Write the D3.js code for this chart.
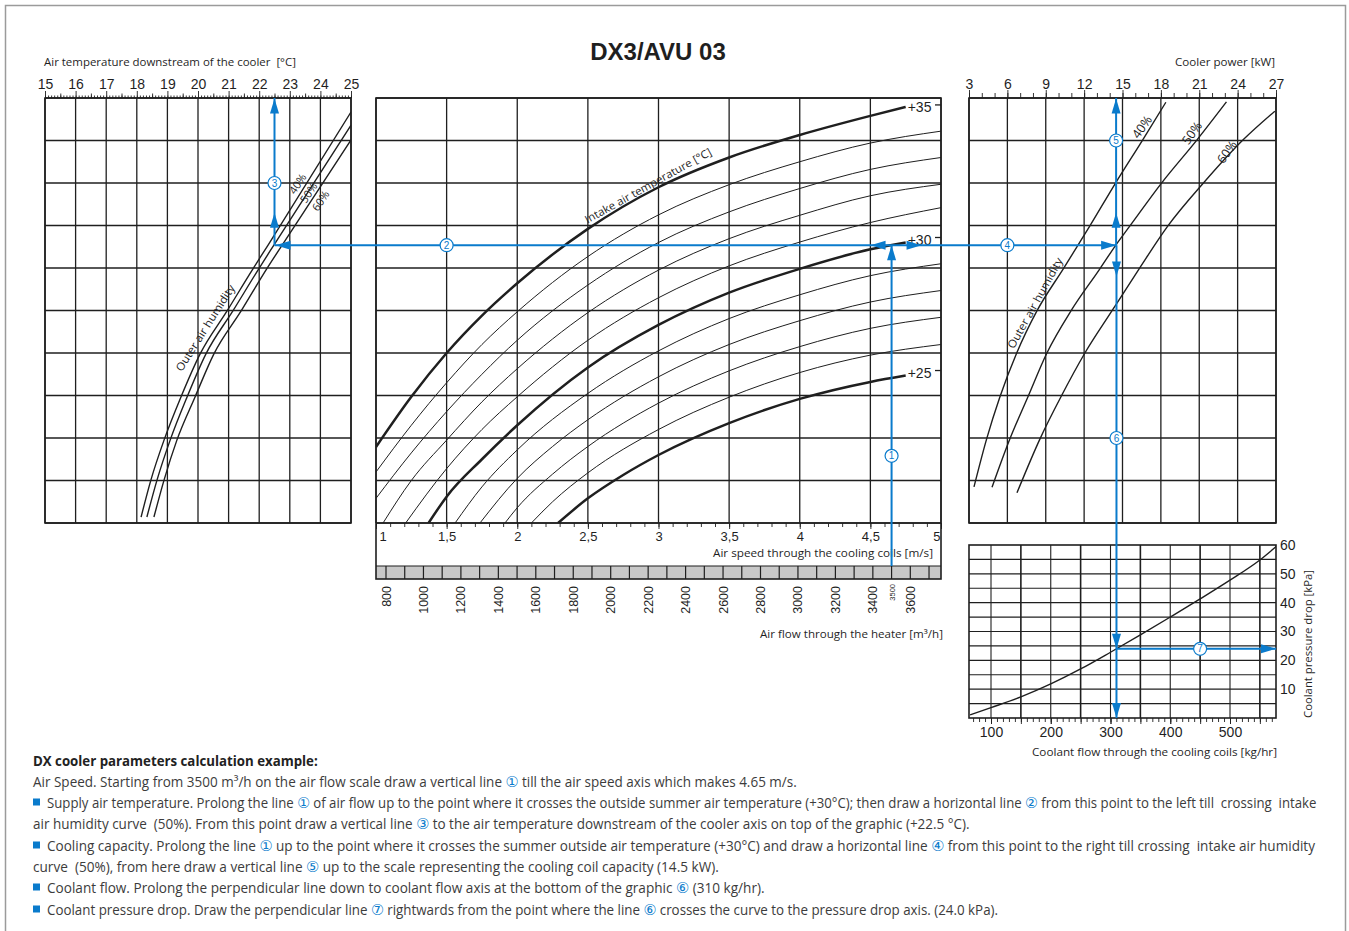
<!DOCTYPE html>
<html>
<head>
<meta charset="utf-8">
<title>DX3/AVU 03</title>
<script src="https://cdn.jsdelivr.net/npm/d3@7/dist/d3.min.js"></script>
<style>
html,body{margin:0;padding:0;background:#fff;}
svg{display:block;}
</style>
</head>
<body>
<svg id="chart" width="1349" height="931"></svg>
<script>
// ================= DATA =================
const chartTitle = "DX3/AVU 03";

const tempTicks = [15,16,17,18,19,20,21,22,23,24,25];
const gridRows = [0,1,2,3,4,5,6,7,8,9,10];
const speedTicks = [1,1.5,2,2.5,3,3.5,4,4.5,5];
const speedTickLabels = ["1","1,5","2","2,5","3","3,5","4","4,5","5"];
const flowTicks = [800,1000,1200,1400,1600,1800,2000,2200,2400,2600,2800,3000,3200,3400,3600];
const flowCells = [800,900,1000,1100,1200,1300,1400,1500,1600,1700,1800,1900,2000,2100,2200,2300,2400,2500,2600,2700,2800,2900,3000,3100,3200,3300,3400,3500,3600,3700];
const powerTicks = [3,6,9,12,15,18,21,24,27];
const coolantTicks = [100,200,300,400,500];
const coolantGrid = [100,150,200,250,300,350,400,450,500,550];
const pressureTicks = [10,20,30,40,50,60];
const pressureGrid = [5,10,15,20,25,30,35,40,45,50,55];
const humidityLabels = ["40%","50%","60%"];
const intakeTemps = [35,34,33,32,31,30,29,28,27,26,25];
const intakeLabels = ["+35","+30","+25"];

// Left panel: outer air humidity curves  [air temperature downstream °C, grid row]
const leftHum40 = [[18.14,0.14],[18.46,1.01],[18.89,1.95],[19.44,2.96],[20.07,3.98],[20.95,4.99],[21.77,5.95],[22.29,6.54],[25.0,9.67]];
const leftHum50 = [[18.33,0.14],[18.66,1.01],[19.09,1.95],[19.64,2.96],[20.26,3.98],[21.14,4.99],[21.96,5.95],[22.48,6.54],[25.0,9.36]];
const leftHum60 = [[18.56,0.14],[18.89,1.01],[19.31,1.95],[19.90,2.96],[20.52,3.98],[21.41,4.99],[22.22,5.95],[22.75,6.54],[25.0,9.01]];

// Middle panel: intake air temperature curves  [air speed m/s, grid row]
const intake35 = [[1.0,1.79],[1.25,2.97],[1.5,4.0],[1.75,4.88],[2.0,5.64],[2.5,6.92],[3.0,7.9],[3.5,8.6],[4.0,9.13],[4.5,9.58],[4.75,9.79]];
const intake34 = [[1.0,1.2],[1.25,2.3],[1.5,3.3],[1.75,4.2],[2.0,4.97],[2.5,6.27],[3.0,7.25],[3.5,7.96],[4.0,8.5],[4.5,8.94],[5.0,9.22]];
const intake33 = [[1.0,0.58],[1.25,1.65],[1.5,2.62],[1.75,3.5],[2.0,4.3],[2.5,5.6],[3.0,6.6],[3.5,7.32],[4.0,7.87],[4.5,8.32],[5.0,8.6]];
const intake32 = [[1.05,0],[1.25,1.0],[1.5,1.95],[1.75,2.85],[2.0,3.63],[2.5,4.95],[3.0,5.95],[3.5,6.69],[4.0,7.24],[4.5,7.7],[5.0,7.97]];
const intake31 = [[1.21,0],[1.5,1.28],[1.75,2.2],[2.0,2.97],[2.5,4.3],[3.0,5.3],[3.5,6.05],[4.0,6.61],[4.5,7.07],[5.0,7.42]];
const intake30 = [[1.372,0],[1.5,0.62],[1.75,1.5],[2.0,2.3],[2.5,3.66],[3.0,4.66],[3.5,5.42],[4.0,5.98],[4.5,6.44],[4.75,6.6]];
const intake29 = [[1.56,0],[1.75,0.85],[2.0,1.72],[2.5,3.05],[3.0,4.05],[3.5,4.81],[4.0,5.37],[4.5,5.82],[5.0,6.1]];
const intake28 = [[1.736,0],[2.0,1.05],[2.25,1.8],[2.5,2.43],[3.0,3.44],[3.5,4.2],[4.0,4.76],[4.5,5.2],[5.0,5.47]];
const intake27 = [[1.913,0],[2.0,0.36],[2.25,1.15],[2.5,1.8],[3.0,2.82],[3.5,3.58],[4.0,4.15],[4.5,4.58],[5.0,4.84]];
const intake26 = [[2.1,0],[2.25,0.5],[2.5,1.18],[3.0,2.2],[3.5,2.96],[4.0,3.54],[4.5,3.95],[5.0,4.2]];
const intake25 = [[2.289,0],[2.5,0.58],[2.75,1.13],[3.0,1.6],[3.5,2.35],[4.0,2.92],[4.5,3.32],[4.75,3.47]];

// Right top panel: outer air humidity curves  [cooler power kW, grid row]
const rightHum40 = [[3.39,0.85],[4.38,1.98],[5.42,2.97],[6.73,4.0],[8.31,4.99],[10.37,5.98],[12.45,6.99],[14.48,8.01],[16.57,9.01],[18.39,9.9]];
const rightHum50 = [[4.8,0.84],[6.2,1.98],[7.61,2.97],[9.09,4.0],[10.97,4.99],[13.23,5.98],[14.48,6.54],[15.58,6.99],[18.08,8.01],[20.81,9.01],[23.13,9.91]];
const rightHum60 = [[6.75,0.71],[8.55,1.98],[10.19,2.97],[12.06,4.0],[14.17,4.99],[16.3,5.98],[18.55,6.99],[21.36,8.01],[24.41,9.01],[26.91,9.69]];

// Right bottom panel: coolant pressure drop  [kg/hr, kPa]
const coolantPressure = [[65,1.1],[100,3.6],[150,7.3],[200,11.8],[250,17.0],[300,22.8],[350,28.8],[400,35.0],[450,41.3],[500,47.8],[550,54.8],[578,59.6]];

// Worked example
const exampleFlow = 3500;
const exampleSupplyTemp = 22.5;
const examplePower = 14.5;
const exampleCoolant = 310;
const examplePressure = 24.0;

// Text
const noteTitle = "DX cooler parameters calculation example:";
const noteLines = [
  "Air Speed. Starting from 3500 m³/h on the air flow scale draw a vertical line ① till the air speed axis which makes 4.65 m/s.",
  "Supply air temperature. Prolong the line ① of air flow up to the point where it crosses the outside summer air temperature (+30°C); then draw a horizontal line ② from this point to the left till  crossing  intake",
  "air humidity curve  (50%). From this point draw a vertical line ③ to the air temperature downstream of the cooler axis on top of the graphic (+22.5 °C).",
  "Cooling capacity. Prolong the line ① up to the point where it crosses the summer outside air temperature (+30°C) and draw a horizontal line ④ from this point to the right till crossing  intake air humidity",
  "curve  (50%), from here draw a vertical line ⑤ up to the scale representing the cooling coil capacity (14.5 kW).",
  "Coolant flow. Prolong the perpendicular line down to coolant flow axis at the bottom of the graphic ⑥ (310 kg/hr).",
  "Coolant pressure drop. Draw the perpendicular line ⑦ rightwards from the point where the line ⑥ crosses the curve to the pressure drop axis. (24.0 kPa)."
];
const noteBullets = [false,true,false,true,false,true,true];

// ================= LAYOUT =================
const ink = "#1f1f1f";
const blue = "#0a7bcc";
const numFont = "'Liberation Sans', Arial, sans-serif";
const lblFont = "'Open Sans', 'DejaVu Sans', sans-serif";
const noteBaselines = [787,808,829,851,872,893,915];
const noteWidths = [764,1270,937,1270,686,718,952];

const svg = d3.select("#chart");
const defs = svg.append("defs");

const yRow   = d3.scaleLinear().domain([0,10]).range([523,98]);
const xTemp  = d3.scaleLinear().domain([15,25]).range([45,351]);
const xSpeed = d3.scaleLinear().domain([1,5]).range([376,941]);
const xFlow  = d3.scaleLinear().domain([800,3600]).range([386,910.3]);
const xPow   = d3.scaleLinear().domain([3,27]).range([969,1276]);
const xCool  = d3.scaleLinear().domain([100,500]).range([991,1230]);
const yPress = d3.scaleLinear().domain([0,60]).range([718,545]);

const P = {
  left:  {x0:45,  x1:351,  y0:98, y1:523},
  mid:   {x0:376, x1:941,  y0:98, y1:523},
  rtop:  {x0:969, x1:1276, y0:98, y1:523},
  rbot:  {x0:969, x1:1276, y0:545, y1:718}
};

function clip(id, p){
  defs.append("clipPath").attr("id",id).append("rect")
    .attr("x",p.x0).attr("y",p.y0).attr("width",p.x1-p.x0).attr("height",p.y1-p.y0);
}
clip("cL",P.left); clip("cM",P.mid); clip("cR",P.rtop); clip("cB",P.rbot);

function vline(g,x,y0,y1,w,c){ return g.append("line").attr("x1",x).attr("x2",x).attr("y1",y0).attr("y2",y1).attr("stroke",c||ink).attr("stroke-width",w); }
function hline(g,y,x0,x1,w,c){ return g.append("line").attr("x1",x0).attr("x2",x1).attr("y1",y).attr("y2",y).attr("stroke",c||ink).attr("stroke-width",w); }
function cleanAxis(sel, size){
  sel.select(".domain").remove();
  sel.attr("color",ink).attr("font-family",numFont).attr("font-size",size||14);
  sel.selectAll(".tick line").attr("stroke-width",0.9);
}

// outer frame
svg.append("path").attr("d","M5.5,931V5.5H1345.5V931").attr("fill","none").attr("stroke","#9b9b9b").attr("stroke-width",1.5);

// title
svg.append("text").attr("x",658).attr("y",60).attr("text-anchor","middle")
  .attr("font-family",numFont).attr("font-weight","bold").attr("font-size",24).attr("fill",ink).text(chartTitle);

// ================= LEFT PANEL =================
const gL = svg.append("g");
tempTicks.forEach(t => vline(gL, xTemp(t), P.left.y0, P.left.y1, 1.3));
gridRows.forEach(r => hline(gL, yRow(r), P.left.x0, P.left.x1, 1.3));
gL.append("rect").attr("x",P.left.x0).attr("y",P.left.y0).attr("width",P.left.x1-P.left.x0).attr("height",P.left.y1-P.left.y0)
  .attr("fill","none").attr("stroke",ink).attr("stroke-width",1.6);
gL.append("g").attr("transform",`translate(0,${P.left.y0})`)
  .call(d3.axisTop(xTemp).tickValues(d3.range(150,251).map(v=>v/10)).tickSize(2.5).tickFormat(""))
  .call(s=>cleanAxis(s));
gL.append("g").attr("transform",`translate(0,${P.left.y0})`)
  .call(d3.axisTop(xTemp).tickValues(d3.range(15.5,25,1)).tickSize(4.5).tickFormat(""))
  .call(s=>cleanAxis(s));
gL.append("g").attr("transform",`translate(0,${P.left.y0})`)
  .call(d3.axisTop(xTemp).tickValues(tempTicks).tickSize(7).tickPadding(2).tickFormat(d3.format("d")))
  .call(s=>cleanAxis(s,14));
gL.append("text").attr("x",44).attr("y",66).attr("font-family",lblFont).attr("font-size",11).attr("fill",ink)
  .attr("textLength",252).attr("lengthAdjust","spacingAndGlyphs").style("white-space","pre")
  .text("Air temperature downstream of the cooler  [°C]");

const lineL = d3.line().x(d=>xTemp(d[0])).y(d=>yRow(d[1])).curve(d3.curveMonotoneX);
const gLc = gL.append("g").attr("clip-path","url(#cL)");
[leftHum40,leftHum50,leftHum60].forEach(c => gLc.append("path").attr("d",lineL(c)).attr("fill","none").attr("stroke",ink).attr("stroke-width",1.4));
[[298,182],[309,191],[321,199]].forEach((p,i)=>{
  gL.append("text").attr("transform",`translate(${p[0]+3},${p[1]+4}) rotate(-57)`).attr("text-anchor","middle")
    .attr("font-family",lblFont).attr("font-size",11).attr("fill",ink).text(humidityLabels[i]);
});
gL.append("text").attr("transform","translate(208.5,330) rotate(-57.6)").attr("text-anchor","middle")
  .attr("font-family",lblFont).attr("font-size",11).attr("fill",ink)
  .attr("textLength",100).attr("lengthAdjust","spacingAndGlyphs").text("Outer air humidity");

// ================= MIDDLE PANEL =================
const gM = svg.append("g");
speedTicks.forEach(s => vline(gM, xSpeed(s), P.mid.y0, P.mid.y1, 1.3));
gridRows.forEach(r => hline(gM, yRow(r), P.mid.x0, P.mid.x1, 1.3));
gM.append("rect").attr("x",P.mid.x0).attr("y",566).attr("width",P.mid.x1-P.mid.x0).attr("height",13).attr("fill","#c8c8c8");
flowCells.forEach(f => vline(gM, xFlow(f), 566, 579, 1.2));
hline(gM,566,P.mid.x0,P.mid.x1,1.2);
gM.append("rect").attr("x",P.mid.x0).attr("y",P.mid.y0).attr("width",P.mid.x1-P.mid.x0).attr("height",579-P.mid.y0)
  .attr("fill","none").attr("stroke",ink).attr("stroke-width",1.6);
hline(gM,P.mid.y1,P.mid.x0,P.mid.x1,1.6);

gM.append("g").attr("transform",`translate(0,${P.mid.y1})`)
  .call(d3.axisBottom(xSpeed).tickValues(d3.range(10,51).map(v=>v/10)).tickSize(4).tickFormat(""))
  .call(s=>cleanAxis(s));
const spAx = gM.append("g").attr("transform",`translate(0,${P.mid.y1})`)
  .call(d3.axisBottom(xSpeed).tickValues(speedTicks).tickSize(6).tickPadding(3).tickFormat((d,i)=>speedTickLabels[i]))
  .call(s=>cleanAxis(s,13));
spAx.selectAll(".tick text").filter(d=>d===1).attr("text-anchor","start").attr("x",3);
spAx.selectAll(".tick text").filter(d=>d===5).attr("text-anchor","end").attr("x",-1);
gM.append("text").attr("x",933).attr("y",557).attr("text-anchor","end").attr("font-family",lblFont).attr("font-size",11).attr("fill",ink)
  .attr("textLength",220).attr("lengthAdjust","spacingAndGlyphs").text("Air speed through the cooling coils [m/s]");

flowTicks.forEach(f => {
  gM.append("text").attr("transform",`translate(${xFlow(f)+4.5},586) rotate(-90)`).attr("text-anchor","end")
    .attr("font-family",numFont).attr("font-size",12.5).attr("fill",ink).text(f);
});
gM.append("text").attr("transform",`translate(${xFlow(exampleFlow)+3},584) rotate(-90)`).attr("text-anchor","end")
  .attr("font-family",numFont).attr("font-size",7.5).attr("fill",ink).text(exampleFlow);
gM.append("text").attr("x",943).attr("y",638).attr("text-anchor","end").attr("font-family",lblFont).attr("font-size",11).attr("fill",ink)
  .attr("textLength",183).attr("lengthAdjust","spacingAndGlyphs").text("Air flow through the heater [m³/h]");

const lineM = d3.line().x(d=>xSpeed(d[0])).y(d=>yRow(d[1])).curve(d3.curveMonotoneX);
const intakeCurves = [intake35,intake34,intake33,intake32,intake31,intake30,intake29,intake28,intake27,intake26,intake25];
const gMc = gM.append("g").attr("clip-path","url(#cM)");
intakeCurves.forEach((c,i) => {
  const thick = intakeTemps[i] % 5 === 0;
  gMc.append("path").attr("d",lineM(c)).attr("fill","none").attr("stroke",ink).attr("stroke-width",thick?2.5:1);
});
[intake35,intake30,intake25].forEach((c,i) => {
  const e = c[c.length-1];
  const yy = yRow(e[1]) - (i===0?0:3);
  gM.append("text").attr("x",xSpeed(e[0])+2).attr("y",yy+5).attr("font-family",numFont).attr("font-size",14).attr("fill",ink).text(intakeLabels[i]);
  hline(gM, yy-2, P.mid.x1-6, P.mid.x1, 1.3);
});
gM.append("text").attr("transform","translate(650,189) rotate(-29)").attr("text-anchor","middle")
  .attr("font-family",lblFont).attr("font-size",11).attr("fill",ink)
  .attr("textLength",143).attr("lengthAdjust","spacingAndGlyphs").text("Intake air temperature [°C]");

// ================= RIGHT TOP PANEL =================
const gR = svg.append("g");
powerTicks.forEach(p => vline(gR, xPow(p), P.rtop.y0, P.rtop.y1, 1.3));
gridRows.forEach(r => hline(gR, yRow(r), P.rtop.x0, P.rtop.x1, 1.3));
gR.append("rect").attr("x",P.rtop.x0).attr("y",P.rtop.y0).attr("width",P.rtop.x1-P.rtop.x0).attr("height",P.rtop.y1-P.rtop.y0)
  .attr("fill","none").attr("stroke",ink).attr("stroke-width",1.6);
gR.append("g").attr("transform",`translate(0,${P.rtop.y0})`)
  .call(d3.axisTop(xPow).tickValues(d3.range(3,28)).tickSize(5).tickFormat(""))
  .call(s=>cleanAxis(s));
gR.append("g").attr("transform",`translate(0,${P.rtop.y0})`)
  .call(d3.axisTop(xPow).tickValues(powerTicks).tickSize(8).tickPadding(1).tickFormat(d3.format("d")))
  .call(s=>cleanAxis(s,14));
gR.append("text").attr("x",1275).attr("y",66).attr("text-anchor","end").attr("font-family",lblFont).attr("font-size",11).attr("fill",ink)
  .attr("textLength",100).attr("lengthAdjust","spacingAndGlyphs").text("Cooler power [kW]");
const lineR = d3.line().x(d=>xPow(d[0])).y(d=>yRow(d[1])).curve(d3.curveMonotoneX);
const gRc = gR.append("g").attr("clip-path","url(#cR)");
[rightHum40,rightHum50,rightHum60].forEach(c => gRc.append("path").attr("d",lineR(c)).attr("fill","none").attr("stroke",ink).attr("stroke-width",1.4));
[[1142,127],[1192,133],[1227,152]].forEach((p,i)=>{
  gR.append("text").attr("transform",`translate(${p[0]+3.5},${p[1]+2.5}) rotate(-55)`).attr("text-anchor","middle")
    .attr("font-family",lblFont).attr("font-size",12.5).attr("fill",ink).text(humidityLabels[i]);
});
gR.append("text").attr("transform","translate(1038.5,305) rotate(-61)").attr("text-anchor","middle")
  .attr("font-family",lblFont).attr("font-size",11).attr("fill",ink)
  .attr("textLength",102).attr("lengthAdjust","spacingAndGlyphs").text("Outer air humidity");

// ================= RIGHT BOTTOM PANEL =================
const gB = svg.append("g");
coolantGrid.forEach(c => vline(gB, xCool(c), P.rbot.y0, P.rbot.y1, c%100===50?1.6:1.1));
pressureGrid.forEach(p => hline(gB, yPress(p), P.rbot.x0, P.rbot.x1, 1.2));
gB.append("rect").attr("x",P.rbot.x0).attr("y",P.rbot.y0).attr("width",P.rbot.x1-P.rbot.x0).attr("height",P.rbot.y1-P.rbot.y0)
  .attr("fill","none").attr("stroke",ink).attr("stroke-width",1.6);
gB.append("g").attr("transform",`translate(0,${P.rbot.y1})`)
  .call(d3.axisBottom(xCool).tickValues(d3.range(70,580,10)).tickSize(4).tickFormat(""))
  .call(s=>cleanAxis(s));
gB.append("g").attr("transform",`translate(0,${P.rbot.y1})`)
  .call(d3.axisBottom(xCool).tickValues(coolantGrid).tickSize(6).tickFormat(""))
  .call(s=>cleanAxis(s));
gB.append("g").attr("transform",`translate(0,${P.rbot.y1})`)
  .call(d3.axisBottom(xCool).tickValues(coolantTicks).tickSize(6).tickPadding(3).tickFormat(d3.format("d")))
  .call(s=>cleanAxis(s,14));
gB.append("g").attr("transform",`translate(${P.rbot.x1},0)`)
  .call(d3.axisRight(yPress).tickValues(pressureTicks).tickSize(0).tickPadding(4).tickFormat(d3.format("d")))
  .call(s=>cleanAxis(s,14));
gB.append("text").attr("x",1277).attr("y",756).attr("text-anchor","end").attr("font-family",lblFont).attr("font-size",11).attr("fill",ink)
  .attr("textLength",245).attr("lengthAdjust","spacingAndGlyphs").text("Coolant flow through the cooling coils [kg/hr]");
gB.append("text").attr("transform","translate(1312,644) rotate(-90)").attr("text-anchor","middle").attr("font-family",lblFont).attr("font-size",11).attr("fill",ink)
  .attr("textLength",148).attr("lengthAdjust","spacingAndGlyphs").text("Coolant pressure drop [kPa]");
const lineB = d3.line().x(d=>xCool(d[0])).y(d=>yPress(d[1])).curve(d3.curveMonotoneX);
gB.append("g").attr("clip-path","url(#cB)").append("path").attr("d",lineB(coolantPressure))
  .attr("fill","none").attr("stroke",ink).attr("stroke-width",1.4);

// ================= WORKED EXAMPLE (blue) =================
function interp(curve, x){
  for(let i=1;i<curve.length;i++){
    if(x<=curve[i][0]){ const a=curve[i-1], b=curve[i]; return a[1]+(b[1]-a[1])*(x-a[0])/(b[0]-a[0]); }
  }
  return curve[curve.length-1][1];
}
const gA = svg.append("g");
const ax1 = xFlow(exampleFlow);
const ay  = yRow(interp(intake30, xSpeed.invert(ax1)));
const ax3 = xTemp(exampleSupplyTemp);
const ax5 = xPow(examplePower);
const ax6 = xCool(exampleCoolant);
const ay7 = yPress(examplePressure);

vline(gA, ax1, 566, ay, 2, blue);
hline(gA, ay, ax3, ax5, 2, blue);
vline(gA, ax3, ay, P.left.y0, 2, blue);
vline(gA, ax5, P.rtop.y0, ay, 2, blue);
vline(gA, ax6, ay, P.rbot.y1, 2, blue);
hline(gA, ay7, ax6, P.rbot.x1, 2, blue);

function arrowHead(x,y,dir){
  const L=15, w=4.5; let p;
  if(dir==="up") p=[[x,y],[x-w,y+L],[x+w,y+L]];
  if(dir==="down") p=[[x,y],[x-w,y-L],[x+w,y-L]];
  if(dir==="left") p=[[x,y],[x+L,y-w],[x+L,y+w]];
  if(dir==="right") p=[[x,y],[x-L,y-w],[x-L,y+w]];
  gA.append("path").attr("d","M"+p.map(q=>q.join(",")).join("L")+"Z").attr("fill",blue);
}
arrowHead(ax1, ay, "up");
arrowHead(ax1-21, ay, "left");
arrowHead(ax1+30, ay, "right");
arrowHead(ax3+1, ay, "left");
arrowHead(ax3, yRow(7.3), "up");
arrowHead(ax3, P.left.y0+0.5, "up");
arrowHead(ax5, ay, "right");
arrowHead(ax5, yRow(7.3), "up");
arrowHead(ax5, P.rtop.y0+0.5, "up");
arrowHead(ax6, yRow(5.8), "down");
arrowHead(ax6, ay7, "down");
arrowHead(ax6, P.rbot.y1, "down");
arrowHead(P.rbot.x1, ay7, "right");

function badge(x,y,n){
  gA.append("circle").attr("cx",x).attr("cy",y).attr("r",6.5).attr("fill","#fff").attr("stroke",blue).attr("stroke-width",1.2);
  gA.append("text").attr("x",x).attr("y",y+3.6).attr("text-anchor","middle").attr("font-family",numFont).attr("font-size",10).attr("fill",blue).text(n);
}
badge(ax1, yRow(1.58), "1");
badge(xSpeed(1.5), ay, "2");
badge(ax3, yRow(8), "3");
badge(xPow(6), ay, "4");
badge(ax5, yRow(9), "5");
badge(ax6, yRow(2), "6");
badge(xCool(450), ay7, "7");

// ================= NOTES =================
const gN = svg.append("g");
function fitText(x, y, width, build){
  const g = gN.append("g").attr("transform",`translate(${x},${y})`);
  const t = g.append("text").attr("x",0).attr("y",0).style("white-space","pre");
  build(t);
  const w = t.node().getComputedTextLength();
  const k = w > 0 ? width / w : 1;
  g.attr("transform",`translate(${x},${y}) scale(${k},1)`);
  return t;
}
fitText(33, 766, 285, t => t.attr("font-family",lblFont).attr("font-weight","bold").attr("font-size",14).attr("fill","#222").text(noteTitle));
noteLines.forEach((ln,i) => {
  const y = noteBaselines[i];
  if(noteBullets[i]) gN.append("rect").attr("x",33).attr("y",y-9.5).attr("width",7).attr("height",7).attr("fill",blue);
  fitText(noteBullets[i]?47:33, y, noteWidths[i], t => {
    t.attr("font-family",lblFont).attr("font-size",14).attr("fill","#3c3c3c");
    ln.split(/([①②③④⑤⑥⑦])/).forEach(seg => {
      if(!seg) return;
      const isC = /[①②③④⑤⑥⑦]/.test(seg);
      const ts = t.append("tspan").text(seg);
      if(isC) ts.attr("fill",blue).attr("font-size",15);
    });
  });
});
</script>
</body>
</html>
